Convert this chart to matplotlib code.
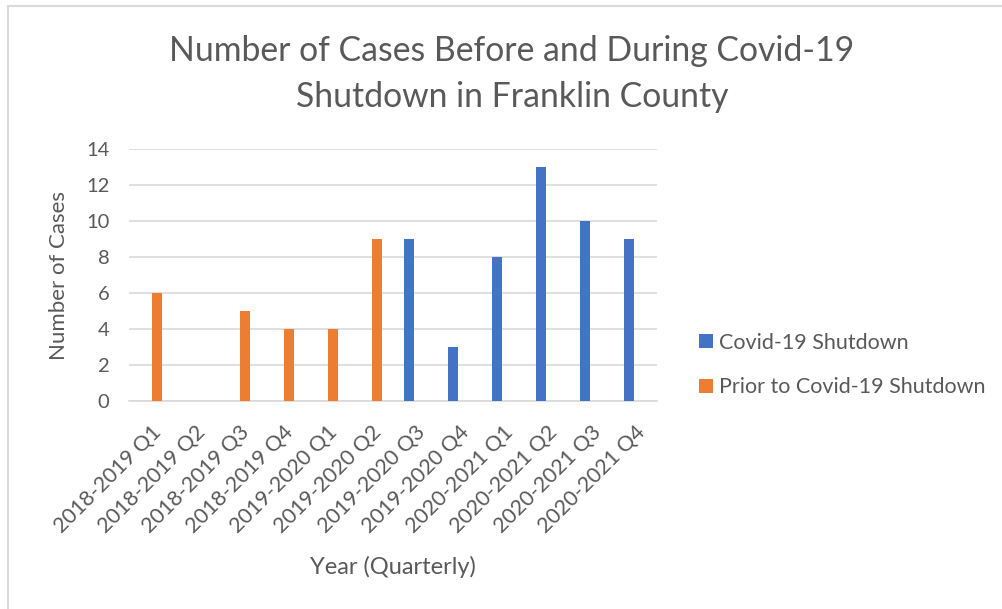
import matplotlib
matplotlib.use("Agg")
import matplotlib.pyplot as plt
import numpy as np
from matplotlib.patches import Rectangle

# quarters on the x axis
quarters = ['2018-2019 Q1', '2018-2019 Q2', '2018-2019 Q3', '2018-2019 Q4',
            '2019-2020 Q1', '2019-2020 Q2', '2019-2020 Q3', '2019-2020 Q4',
            '2020-2021 Q1', '2020-2021 Q2', '2020-2021 Q3', '2020-2021 Q4']

# cases per series (0 where series has no value)
covid_cases = [0, 0, 0, 0, 0, 0, 9, 3, 8, 13, 10, 9]
prior_cases = [6, 0, 5, 4, 4, 9, 0, 0, 0, 0, 0, 0]

blue = '#4472C4'
orange = '#ED7D31'
txt = '#595959'
grid = '#D9D9D9'

plt.rcParams['font.family'] = ['Lato', 'DejaVu Sans']

fig = plt.figure(figsize=(10.02, 6.09), dpi=100)
# chart area border (only left and top edges are inside the picture)
fig.patches.append(Rectangle((8 / 1002, -0.1), 1.2, 1 - 6 / 609 + 0.1,
                             transform=fig.transFigure, fill=False,
                             edgecolor=grid, linewidth=1.5))

ax = fig.add_axes([0.1287, 0.3415, 0.527, 0.4138])

x = np.arange(len(quarters))
w = 0.23
b1 = ax.bar(x - 0.135, covid_cases, w, color=blue, label='Covid-19 Shutdown', zorder=3)
b2 = ax.bar(x + 0.135, prior_cases, w, color=orange, label='Prior to Covid-19 Shutdown', zorder=3)

ax.set_xlim(-0.5, len(quarters) - 0.5)
ax.set_ylim(0, 14)
ax.set_yticks(range(0, 15, 2))
ax.yaxis.grid(True, color=grid, linewidth=1.2, zorder=0)
ax.set_axisbelow(True)
for s in ['top', 'right', 'left']:
    ax.spines[s].set_visible(False)
ax.spines['bottom'].set_color(grid)
ax.spines['bottom'].set_linewidth(1.2)
ax.tick_params(axis='both', length=0, colors=txt, labelsize=14.5)
ax.tick_params(axis='y', pad=14)

ax.set_xticks(x)
ax.set_xticklabels(quarters, rotation=45, ha='right', rotation_mode='anchor', fontsize=15.5)
ax.tick_params(axis='x', pad=15)

ax.set_ylabel('Number of Cases', color=txt, fontsize=16, labelpad=12)
ax.set_xlabel('Year (Quarterly)', color=txt, fontsize=17, labelpad=14)

fig.text(0.511, 0.879, 'Number of Cases Before and During Covid-19\nShutdown in Franklin County',
         ha='center', va='center', color=txt, fontsize=24.3, linespacing=1.55)

leg = ax.legend(handles=[b1, b2], loc='center left', bbox_to_anchor=(0.6976, 0.4007),
                bbox_transform=fig.transFigure, frameon=False, fontsize=15.5,
                borderpad=0, borderaxespad=0,
                handlelength=0.65, handleheight=0.65, handletextpad=0.3,
                labelspacing=1.15, labelcolor=txt)

fig.savefig('out.png', dpi=100)
